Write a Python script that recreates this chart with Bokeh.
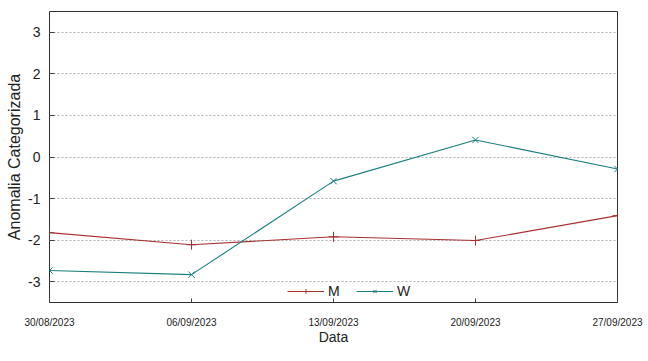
import pandas as pd
from bokeh.plotting import figure
from bokeh.models import (FixedTicker, DatetimeTickFormatter, Range1d, Legend, LegendItem)
from bokeh.embed import file_html
from bokeh.resources import INLINE

dates = ["2023-08-30", "2023-09-06", "2023-09-13", "2023-09-20", "2023-09-27"]
m_values = [-1.82, -2.11, -1.92, -2.01, -1.41]
w_values = [-2.73, -2.83, -0.58, 0.41, -0.29]
y_ticks = [-3, -2, -1, 0, 1, 2, 3]
y_labels = ["-3", "-2", "-1", "0", "1", "2", "3"]

x = pd.to_datetime(dates)
x_ms = [d.value / 1e6 for d in x]

M_COLOR = "#a83232"
W_COLOR = "#1a7f7f"
FONT = "Liberation Sans"

p = figure(width=648, height=361, frame_width=568, frame_height=291,
           x_axis_type="datetime", output_backend="svg", toolbar_location=None,
           min_border_left=49, min_border_right=31, min_border_top=11,
           min_border_bottom=59,
           x_range=Range1d(x_ms[0], x_ms[-1]), y_range=Range1d(-3.5, 3.5))

p.outline_line_color = "#303030"
p.outline_line_width = 1
p.xgrid.visible = False
p.ygrid.ticker = FixedTicker(ticks=y_ticks)
p.ygrid.grid_line_color = "#b0b0b0"
p.ygrid.grid_line_dash = "2 2"
p.ygrid.grid_line_width = 1

xa = p.xaxis[0]
xa.ticker = FixedTicker(ticks=x_ms)
xa.formatter = DatetimeTickFormatter(days="%d/%m/%Y", months="%d/%m/%Y", years="%d/%m/%Y")
xa.major_label_text_font = FONT
xa.major_label_text_font_size = "10px"
xa.major_label_text_color = "#222222"
xa.major_label_standoff = 14
xa.major_tick_in = 4
xa.major_tick_out = 0
xa.minor_tick_line_color = None
xa.axis_line_color = None
xa.major_tick_line_color = "#404040"
xa.axis_label = "Data"
xa.axis_label_text_font = FONT
xa.axis_label_text_font_size = "14px"
xa.axis_label_text_font_style = "normal"
xa.axis_label_text_color = "#222222"
xa.axis_label_standoff = -2

ya = p.yaxis[0]
ya.ticker = FixedTicker(ticks=y_ticks)
ya.major_label_overrides = {t: l for t, l in zip(y_ticks, y_labels)}
ya.major_label_text_font = FONT
ya.major_label_text_font_size = "14px"
ya.major_label_text_color = "#222222"
ya.major_label_standoff = 9
ya.major_tick_in = 5
ya.major_tick_out = 0
ya.minor_tick_line_color = None
ya.axis_line_color = None
ya.major_tick_line_color = "#404040"
ya.axis_label = "Anomalia Categorizada"
ya.axis_label_text_font = FONT
ya.axis_label_text_font_size = "16px"
ya.axis_label_text_font_style = "normal"
ya.axis_label_text_color = "#222222"
ya.axis_label_standoff = 2

lm = p.line(x_ms, m_values, line_color=M_COLOR, line_width=1.1)
sm = p.scatter(x_ms, m_values, marker="cross", size=10, line_color=M_COLOR, line_width=1)
lw = p.line(x_ms, w_values, line_color=W_COLOR, line_width=1.1)
sw = p.scatter(x_ms, w_values, marker="x", size=9, line_color=W_COLOR, line_width=1)

legend = Legend(items=[LegendItem(label="M", renderers=[lm, sm]),
                       LegendItem(label="W", renderers=[lw, sw])],
                orientation="horizontal", location=(238, 3),
                glyph_width=37, glyph_height=12, label_height=12,
                label_standoff=4, spacing=8, padding=0, margin=0,
                label_text_font=FONT, label_text_font_size="14px",
                label_text_color="#222222",
                border_line_color=None, background_fill_alpha=0)
p.add_layout(legend, "center")

open("out.html", "w").write(file_html(p, INLINE))
